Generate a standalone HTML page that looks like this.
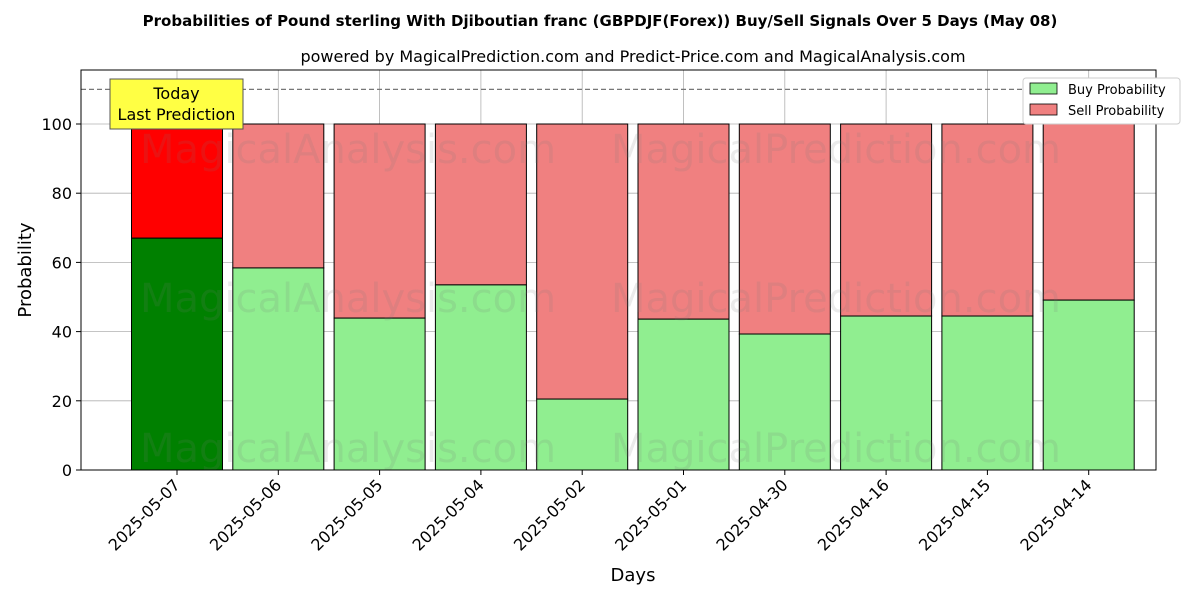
<!DOCTYPE html>
<html><head><meta charset="utf-8"><style>
body{margin:0;background:#fff;font-family:"DejaVu Sans","Liberation Sans",sans-serif;}
svg text{font-family:"DejaVu Sans","Liberation Sans",sans-serif;}
</style></head><body>
<svg id="chart" width="1200" height="600" xmlns="http://www.w3.org/2000/svg">
<text x="600" y="26" text-anchor="middle" font-size="15" font-weight="bold">Probabilities of Pound sterling With Djiboutian franc (GBPDJF(Forex)) Buy/Sell Signals Over 5 Days (May 08)</text>
<text x="633" y="62" text-anchor="middle" font-size="16">powered by MagicalPrediction.com and Predict-Price.com and MagicalAnalysis.com</text>
<g id="grid"></g>
<g id="bars"></g>
<g font-size="40" fill="rgba(120,120,120,0.15)" text-anchor="middle">
<text x="348" y="163">MagicalAnalysis.com</text><text x="836" y="163">MagicalPrediction.com</text>
<text x="348" y="312">MagicalAnalysis.com</text><text x="836" y="312">MagicalPrediction.com</text>
<text x="348" y="462">MagicalAnalysis.com</text><text x="836" y="462">MagicalPrediction.com</text>
</g>
<line x1="81" x2="1156" y1="89.4" y2="89.4" stroke="#777" stroke-dasharray="5,3" stroke-width="1.2"/>
<rect x="81" y="70" width="1075" height="400" fill="none" stroke="#000" stroke-width="1"/>
<g id="axes"></g>
<g>
<rect x="110" y="79" width="133" height="50" fill="#ffff44" stroke="#555" stroke-width="1"/>
<text x="176.5" y="99" text-anchor="middle" font-size="16">Today</text>
<text x="176.5" y="120" text-anchor="middle" font-size="16">Last Prediction</text>
</g>
<g>
<rect x="1023" y="78" width="157" height="46" fill="#fff" stroke="#ccc" rx="3"/>
<rect x="1030" y="83" width="27" height="11" fill="#90ee90" stroke="#000" stroke-width="0.8"/>
<text x="1068" y="94" font-size="13">Buy Probability</text>
<rect x="1030" y="104" width="27" height="11" fill="#f08080" stroke="#000" stroke-width="0.8"/>
<text x="1068" y="115" font-size="13">Sell Probability</text>
</g>
<text transform="translate(31,270) rotate(-90)" text-anchor="middle" font-size="18">Probability</text>
<text x="633" y="581" text-anchor="middle" font-size="18">Days</text>
</svg>
<script>
const categories=["2025-05-07","2025-05-06","2025-05-05","2025-05-04","2025-05-02","2025-05-01","2025-04-30","2025-04-16","2025-04-15","2025-04-14"];
const buyValues=[67.0,58.4,43.9,53.5,20.5,43.6,39.3,44.5,44.5,49.1];
const yTicks=[0,20,40,60,80,100];
const NS="http://www.w3.org/2000/svg";
const y=v=>470-v*3.46;
const x=i=>177+i*101.3;
const bw=91;
function mk(tag,attrs,parent){const e=document.createElementNS(NS,tag);for(const k in attrs)e.setAttribute(k,attrs[k]);parent.appendChild(e);return e;}
const grid=document.getElementById('grid'),bars=document.getElementById('bars'),axes=document.getElementById('axes');
yTicks.forEach(t=>{
  const l=mk('line',{x1:81,x2:1156,y1:y(t),y2:y(t),stroke:'#b0b0b0','stroke-width':0.8},grid);
  
  
  const tk=mk('line',{x1:76,x2:81,y1:y(t),y2:y(t),stroke:'#000'},axes);
  
  
  const tx=mk('text',{x:72,y:y(t)+6,'text-anchor':'end','font-size':16},axes);
  tx.textContent=t;
  
  
});
categories.forEach((c,i)=>{
  const gl=mk('line',{x1:x(i),x2:x(i),y1:70,y2:470,stroke:'#b0b0b0','stroke-width':0.8},grid);
  
  
  const b=buyValues[i];
  const sell=mk('rect',{x:x(i)-bw/2,y:y(100),width:bw,height:y(b)-y(100),fill:i===0?'#ff0000':'#f08080',stroke:'#000','stroke-width':1},bars);
  
  
  const buy=mk('rect',{x:x(i)-bw/2,y:y(b),width:bw,height:y(0)-y(b),fill:i===0?'#008000':'#90ee90',stroke:'#000','stroke-width':1},bars);
  
  
  const tk=mk('line',{x1:x(i),x2:x(i),y1:470,y2:475,stroke:'#000'},axes);
  
  
  const tx=mk('text',{x:x(i)+4,y:486,'text-anchor':'end','font-size':16,transform:`rotate(-45 ${x(i)+4} 486)`},axes);
  tx.textContent=c;
  
  
});
</script>
</body></html>
